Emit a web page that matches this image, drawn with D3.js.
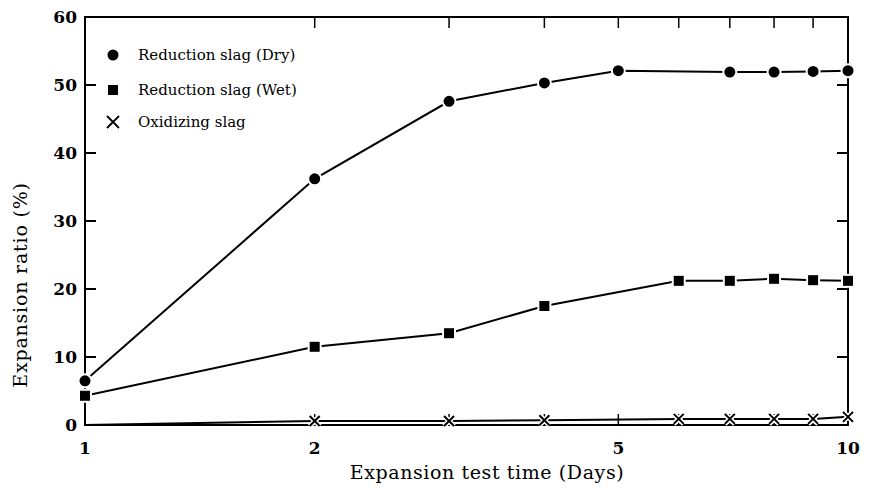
<!DOCTYPE html>
<html>
<head>
<meta charset="UTF-8" />
<script src="https://d3js.org/d3.v7.min.js"></script>
<style>
  body { margin: 0; background: #fff; }
  text { font-family: "DejaVu Serif", serif; fill: #000; }
</style>
</head>
<body>
<svg width="880" height="492"></svg>
<script>
// data
const dryDays = [1, 2, 3, 4, 5, 7, 8, 9, 10];
const dryVals = [6.5, 36.2, 47.6, 50.3, 52.1, 51.9, 51.9, 52.0, 52.1];
const wetDays = [1, 2, 3, 4, 6, 7, 8, 9, 10];
const wetVals = [4.3, 11.5, 13.5, 17.5, 21.2, 21.2, 21.5, 21.3, 21.2];
const oxDays = [1, 2, 3, 4, 6, 7, 8, 9, 10];
const oxVals = [0, 0.6, 0.6, 0.7, 0.9, 0.9, 0.9, 0.9, 1.2];
const xTickVals = [1, 2, 5, 10];
const xMinorTicks = [2, 3, 4, 5, 6, 7, 8, 9];
const yTickVals = [0, 10, 20, 30, 40, 50, 60];
const legendNames = ["Reduction slag (Dry)", "Reduction slag (Wet)", "Oxidizing slag"];

const pLeft = 85, pRight = 848, pTop = 17, pBottom = 425;
const svg = d3.select("svg");

const x = d3.scaleLog().domain([1, 10]).range([pLeft, pRight]);
const y = d3.scaleLinear().domain([0, 60]).range([pBottom, pTop]);

// frame
svg.append("rect")
  .attr("x", pLeft).attr("y", pTop)
  .attr("width", pRight - pLeft).attr("height", pBottom - pTop)
  .attr("fill", "none").attr("stroke", "#000").attr("stroke-width", 2);

// inward ticks
const tk = 11;
yTickVals.slice(1, -1).forEach(v => {
  svg.append("line").attr("x1", pLeft).attr("x2", pLeft + tk)
    .attr("y1", y(v)).attr("y2", y(v)).attr("stroke", "#000").attr("stroke-width", 2);
  svg.append("line").attr("x1", pRight).attr("x2", pRight - tk)
    .attr("y1", y(v)).attr("y2", y(v)).attr("stroke", "#000").attr("stroke-width", 2);
});
xMinorTicks.forEach(v => {
  svg.append("line").attr("x1", x(v)).attr("x2", x(v))
    .attr("y1", pBottom).attr("y2", pBottom - tk).attr("stroke", "#000").attr("stroke-width", 1.5);
  svg.append("line").attr("x1", x(v)).attr("x2", x(v))
    .attr("y1", pTop).attr("y2", pTop + tk).attr("stroke", "#000").attr("stroke-width", 1.5);
});

// tick labels
svg.selectAll(".ylab").data(yTickVals).enter().append("text")
  .attr("x", pLeft - 8).attr("y", d => y(d) + 6)
  .attr("text-anchor", "end").attr("font-size", 17).attr("font-weight", "bold")
  .text(d => d);
svg.selectAll(".xlab").data(xTickVals).enter().append("text")
  .attr("x", d => x(d)).attr("y", pBottom + 29)
  .attr("text-anchor", "middle").attr("font-size", 17).attr("font-weight", "bold")
  .text(d => d);

// axis titles
svg.append("text").attr("x", 487).attr("y", 479).attr("text-anchor", "middle")
  .attr("font-size", 19).attr("letter-spacing", 0.6).text("Expansion test time (Days)");
svg.append("text").attr("transform", "translate(27,285) rotate(-90)")
  .attr("text-anchor", "middle").attr("font-size", 19).attr("letter-spacing", 0.8)
  .text("Expansion ratio (%)");

// lines
const line = d3.line().x(d => x(d[0])).y(d => y(d[1]));
function series(days, vals) { return days.map((d, i) => [d, vals[i]]); }
const dry = series(dryDays, dryVals), wet = series(wetDays, wetVals), ox = series(oxDays, oxVals);
[dry, wet, ox].forEach(s => {
  svg.append("path").datum(s).attr("d", line)
    .attr("fill", "none").attr("stroke", "#000").attr("stroke-width", 2);
});

// markers
function circle(g, cx, cy) {
  g.append("circle").attr("cx", cx).attr("cy", cy).attr("r", 6.5)
    .attr("fill", "#000").attr("stroke", "#fff").attr("stroke-width", 2);
}
function square(g, cx, cy) {
  g.append("rect").attr("x", cx - 6).attr("y", cy - 6).attr("width", 12).attr("height", 12)
    .attr("fill", "#000").attr("stroke", "#fff").attr("stroke-width", 2);
}
function cross(g, cx, cy) {
  const d = `M${cx - 5},${cy - 5}L${cx + 5},${cy + 5}M${cx - 5},${cy + 5}L${cx + 5},${cy - 5}`;
  g.append("path").attr("d", d).attr("stroke", "#fff").attr("stroke-width", 5);
  g.append("path").attr("d", d).attr("stroke", "#000").attr("stroke-width", 2);
}
dry.forEach(d => circle(svg, x(d[0]), y(d[1])));
wet.forEach(d => square(svg, x(d[0]), y(d[1])));
ox.slice(1).forEach(d => cross(svg, x(d[0]), y(d[1])));

// legend
const legY = [55, 90, 122];
circle(svg, 113, legY[0]);
square(svg, 113, legY[1]);
svg.append("path").attr("d", `M107,${legY[2] - 6}L119,${legY[2] + 6}M107,${legY[2] + 6}L119,${legY[2] - 6}`)
  .attr("stroke", "#000").attr("stroke-width", 1.8);
legendNames.forEach((n, i) => {
  svg.append("text").attr("x", 138).attr("y", legY[i] + 5)
    .attr("font-size", 15).text(n);
});
</script>
</body>
</html>
